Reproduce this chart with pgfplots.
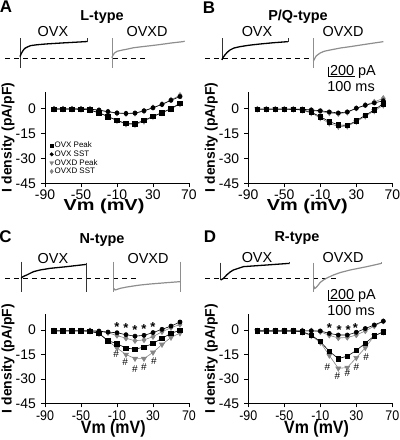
\documentclass[border=0pt]{standalone}
\usepackage{fontspec}
\setmainfont{Liberation Sans}
\usepackage{graphicx}
\usepackage{pgfplots}
\pgfplotsset{compat=1.18}
\definecolor{grm}{HTML}{858585}
\definecolor{grt}{HTML}{8E8E8E}
\newcommand{\fs}[1]{\fontsize{#1}{#1}\selectfont}
\newcommand{\sv}[1]{\scalebox{1}[1.12]{#1}}
\pgfplotsset{
  ivaxis/.style={
    scale only axis, width=144bp, anchor=south west,
    xmin=-90, xmax=70, ymin=-45, ymax=10,
    axis x line*=bottom, axis y line*=left,
    axis line style={-, line width=0.8bp, black},
    xtick={-90,-50,-10,30,70},
    ytick={-45,-30,-15,0}, yticklabels={-45,-30,-15,0},
    tick align=outside, major tick length=4bp,
    every tick/.style={line width=0.8bp, black},
    yticklabel style={font=\fs{14}, inner sep=0pt, anchor=east, xshift=-5bp},
    ylabel={I density (pA/pF)},
    every axis y label/.style={at={(axis description cs:-0.257,0.5)}, rotate=90, anchor=center, inner sep=0pt, font=\fs{14}\bfseries},
    clip=false,
  },
  ivtop/.style={height=91.7bp,
    xticklabels={-90,-50,-10,30,70},
    xticklabel style={font=\fs{14}, inner sep=0pt, anchor=north, yshift=-2bp},
    xlabel={\scalebox{1.25}[1]{Vm (mV)}},
    every axis x label/.style={at={(axis description cs:0.41,-0.255)}, anchor=center, inner sep=0pt, font=\fs{16}\bfseries}},
  ivbot/.style={height=89.4bp,
    xticklabels={\sv{-90},\sv{-50},\sv{-10},\sv{30},\sv{70}},
    xticklabel style={font=\fs{12.5}, inner sep=0pt, anchor=north, yshift=-3.7bp},
    xlabel={\sv{Vm (mV)}},
    every axis x label/.style={at={(axis description cs:0.474,-0.29)}, anchor=center, inner sep=0pt, font=\fs{16}\bfseries}},
  opk/.style={black, line width=0.6bp, mark=square*, mark size=2.2bp},
  osst/.style={black, line width=0.6bp, mark=*, mark size=2.1bp},
  dpk/.style={grm, line width=0.6bp, mark=triangle*, mark size=2.9bp, mark options={rotate=180}},
  dsst/.style={grm, line width=0.6bp, mark=diamond*, mark size=2.7bp},
  star/.style={only marks, mark=text, text mark={\fs{13}\bfseries *}, black},
  hash/.style={only marks, mark=text, text mark={\fs{10}\#}, black!80},
  traceaxis/.style={scale only axis, width=200bp, height=45bp, anchor=south west,
    xmin=-74.07, xmax=666.67, ymin=-340, ymax=560, hide axis, clip=false},
  tblack/.style={black, line width=1.3bp},
  tgrey/.style={grt, line width=1.2bp},
  tartb/.style={black!80, line width=0.5bp},
  tartg/.style={grt, line width=0.5bp},
  base/.style={black, line width=0.8bp, dash pattern=on 5bp off 4bp},
}
\begin{document}
\begin{tikzpicture}
\path[use as bounding box] (0,0) rectangle (400bp,-440bp);

%%%%%%%%%%%%%%%% Traces A
\begin{axis}[traceaxis, at={(0bp,-75bp)}]
\addplot[base] coordinates {(-55,0) (463,0)};
\addplot[tartb] coordinates {(0,400) (0,-200)};
\addplot[tblack] coordinates {(0,30) (5,90) (10,140) (15,175) (20,200) (30,228) (40,248) (60,263) (80,273) (100,282) (130,292) (160,302) (200,314) (250,330)};
\addplot[tartb] coordinates {(250,330) (250,400)};
\addplot[tartg] coordinates {(340,400) (340,-200)};
\addplot[tgrey] coordinates {(340,5) (345,60) (350,100) (360,135) (380,160) (395,175) (420,205) (450,225) (490,250) (520,270) (560,300) (600,325) (610,335)};
\end{axis}

%%%%%%%%%%%%%%%% Traces B
\begin{axis}[traceaxis, at={(200bp,-75bp)}]
\addplot[base] coordinates {(-55,0) (352,0)};
\addplot[tartb] coordinates {(7,400) (7,-40)};
\addplot[tblack] coordinates {(7,-40) (10,0) (18,60) (27,115) (37,160) (52,200) (74,227) (107,255) (148,280) (197,305) (251,327)};
\addplot[tartb] coordinates {(251,327) (251,395)};
\addplot[tartg] coordinates {(346,400) (346,-200)};
\addplot[tgrey] coordinates {(346,-60) (350,-20) (356,40) (371,100) (386,135) (408,160) (446,200) (482,227) (546,280) (605,327)};
\addplot[black, line width=0.8bp] coordinates {(401,-173) (401,-373) (501,-373)};
\node[anchor=base west, font=\fs{14.5}, inner sep=0pt] at (axis cs:407,-350) {200 pA};
\node[anchor=base west, font=\fs{14.5}, inner sep=0pt] at (axis cs:397,-674) {100 ms};
\end{axis}

%%%%%%%%%%%%%%%% Traces C
\begin{axis}[traceaxis, at={(0bp,-295bp)}]
\addplot[base] coordinates {(-55,0) (444,0)};
\addplot[tartb] coordinates {(4,327) (4,-273)};
\addplot[tblack] coordinates {(4,-7) (9,20) (14,35) (25,60) (50,127) (74,160) (111,193) (173,227) (247,273)};
\addplot[tartb] coordinates {(247,307) (247,-273)};
\addplot[tartg] coordinates {(346,327) (346,-273)};
\addplot[tgrey] coordinates {(346,-200) (352,-240) (361,-225) (371,-207) (396,-180) (420,-160) (446,-140) (482,-120) (544,-93) (593,-73)};
\addplot[tartg] coordinates {(593,327) (593,-273)};
\end{axis}

%%%%%%%%%%%%%%%% Traces D
\begin{axis}[traceaxis, at={(200bp,-295bp)}]
\addplot[base] coordinates {(-55,0) (444,0)};
\addplot[tartb] coordinates {(2.5,307) (2.5,-40)};
\addplot[tblack] coordinates {(2.5,-40) (5.5,-30) (12.5,-10) (24.5,60) (37.5,120) (49.5,160) (86.5,227) (172.5,260) (257.5,293)};
\addplot[tartb] coordinates {(257.5,293) (257.5,330)};
\addplot[tartg] coordinates {(346,307) (346,-273)};
\addplot[tgrey] coordinates {(346,-150) (351,-210) (356,-190) (364,-140) (371,-90) (383,-40) (396,0) (420,60) (446,110) (482,160) (544,227) (596,290)};
\addplot[tartg] coordinates {(596,290) (596,330)};
\addplot[black, line width=0.8bp] coordinates {(401,-240) (401,-440) (501,-440)};
\node[anchor=base west, font=\fs{14.5}, inner sep=0pt] at (axis cs:407,-430) {200 pA};
\node[anchor=base west, font=\fs{14.5}, inner sep=0pt] at (axis cs:397,-740) {100 ms};
\end{axis}

%%%%%%%%%%%%%%%% IV A
\begin{axis}[ivaxis, ivtop, at={(45bp,-183.3bp)},
  legend style={at={(axis cs:-85,-19.6)}, anchor=north west, draw=none, fill=none,
    font=\fs{8}, row sep=-0.6bp, inner sep=0pt, nodes={inner sep=1pt}},
  legend cell align=left,
  legend image code/.code={\draw[#1] plot coordinates {(3bp,0bp)};}]
\addlegendimage{only marks, black, mark=square*, mark size=1.8bp}
\addlegendentry{OVX Peak}
\addlegendimage{only marks, black, mark=*, mark size=1.8bp}
\addlegendentry{OVX SST}
\addlegendimage{only marks, grm, mark=triangle*, mark size=2.3bp, mark options={rotate=180}}
\addlegendentry{OVXD Peak}
\addlegendimage{only marks, grm, mark=diamond*, mark size=2.2bp}
\addlegendentry{OVXD SST}
\addplot[dpk, forget plot] coordinates {(-80,-0.5) (-70,-0.5) (-60,-0.5) (-50,-0.6) (-40,-1) (-30,-2.6) (-20,-4.8) (-10,-7.4) (0,-9.5) (10,-9.8) (20,-7.8) (30,-5) (40,-2.8) (50,-0.4) (60,2.6)};
\addplot[dsst, forget plot] coordinates {(-80,-0.4) (-70,-0.4) (-60,-0.4) (-50,-0.4) (-40,-0.5) (-30,-1.2) (-20,-2.2) (-10,-3) (0,-3.3) (10,-3.1) (20,-1.7) (30,0.4) (40,2.4) (50,5) (60,7.8)};
\addplot[opk, forget plot] coordinates {(-80,-0.5) (-70,-0.5) (-60,-0.5) (-50,-0.6) (-40,-1) (-30,-2.8) (-20,-5) (-10,-7.3) (0,-9.1) (10,-9.3) (20,-7.3) (30,-4.8) (40,-2.6) (50,-0.2) (60,3)};
\addplot[osst, forget plot] coordinates {(-80,-0.4) (-70,-0.4) (-60,-0.4) (-50,-0.4) (-40,-0.5) (-30,-1.1) (-20,-2) (-10,-2.8) (0,-3.1) (10,-2.9) (20,-1.5) (30,0.3) (40,2.3) (50,4.8) (60,7)};
\end{axis}

%%%%%%%%%%%%%%%% IV B
\begin{axis}[ivaxis, ivtop, at={(248.3bp,-183.3bp)}]
\addplot[dpk] coordinates {(-80,-0.5) (-70,-0.5) (-60,-0.5) (-50,-0.5) (-40,-0.6) (-30,-1.2) (-20,-2.8) (-10,-5.8) (0,-9) (10,-11) (20,-10.8) (30,-8) (40,-4.8) (50,-1.6) (60,1.8)};
\addplot[dsst] coordinates {(-80,-0.5) (-70,-0.5) (-60,-0.5) (-50,-0.5) (-40,-0.5) (-30,-0.7) (-20,-1.2) (-10,-2) (0,-2.8) (10,-3.3) (20,-2.5) (30,0) (40,2) (50,3.8) (60,6)};
\addplot[opk] coordinates {(-80,-0.5) (-70,-0.5) (-60,-0.5) (-50,-0.5) (-40,-0.6) (-30,-1) (-20,-2.4) (-10,-5) (0,-8) (10,-10) (20,-10.3) (30,-7.5) (40,-4.2) (50,-1) (60,2.8)};
\addplot[osst] coordinates {(-80,-0.5) (-70,-0.5) (-60,-0.5) (-50,-0.5) (-40,-0.5) (-30,-0.6) (-20,-1) (-10,-1.5) (0,-2.2) (10,-2.8) (20,-2.2) (30,0) (40,1.8) (50,3.2) (60,4.5)};
\end{axis}

%%%%%%%%%%%%%%%% IV C
\begin{axis}[ivaxis, ivbot, at={(45bp,-403.3bp)}]
\addplot[dpk] coordinates {(-80,-0.4) (-70,-0.4) (-60,-0.4) (-50,-0.4) (-40,-0.6) (-30,-2.2) (-20,-6.5) (-10,-11) (0,-15) (10,-17.5) (20,-17.5) (30,-13.7) (40,-8.8) (50,-4.5) (60,-1.8)};
\addplot[dsst] coordinates {(-80,-0.4) (-70,-0.4) (-60,-0.4) (-50,-0.4) (-40,-0.4) (-30,-0.8) (-20,-1.6) (-10,-3.3) (0,-5) (10,-6.5) (20,-6) (30,-4) (40,-1) (50,1.5) (60,3.5)};
\addplot[opk] coordinates {(-80,-0.4) (-70,-0.4) (-60,-0.4) (-50,-0.4) (-40,-0.6) (-30,-2) (-20,-6.5) (-10,-8.3) (0,-11) (10,-11.7) (20,-10.4) (30,-8.2) (40,-5) (50,-2) (60,0)};
\addplot[osst] coordinates {(-80,-0.4) (-70,-0.4) (-60,-0.4) (-50,-0.4) (-40,-0.4) (-30,-0.6) (-20,-1.2) (-10,-1.6) (0,-2.8) (10,-3.7) (20,-3.2) (30,-1.5) (40,0.5) (50,2.5) (60,5)};
\addplot[star] coordinates {(-10,1.8) (0,1) (10,0) (20,0.9) (30,1.8)};
\addplot[hash] coordinates {(-11,-15) (-1,-19.5) (10,-24) (20,-23) (31,-19)};
\end{axis}

%%%%%%%%%%%%%%%% IV D
\begin{axis}[ivaxis, ivbot, at={(248.3bp,-403.3bp)}]
\addplot[dpk] coordinates {(-80,-0.5) (-70,-0.5) (-60,-0.5) (-50,-0.5) (-40,-0.5) (-30,-1.2) (-20,-3.5) (-10,-7.5) (0,-15.5) (10,-23.5) (20,-23) (30,-17) (40,-10.8) (50,-3.5) (60,-1.2)};
\addplot[dsst] coordinates {(-80,-0.4) (-70,-0.4) (-60,-0.4) (-50,-0.4) (-40,-0.4) (-30,-0.4) (-20,-0.4) (-10,-1) (0,-3.2) (10,-4.8) (20,-4.5) (30,-3) (40,-0.5) (50,2.5) (60,5.5)};
\addplot[opk] coordinates {(-80,-0.5) (-70,-0.5) (-60,-0.5) (-50,-0.5) (-40,-0.5) (-30,-1) (-20,-3) (-10,-7) (0,-13) (10,-17.5) (20,-16) (30,-12.5) (40,-8) (50,-3.5) (60,-1)};
\addplot[osst] coordinates {(-80,-0.4) (-70,-0.4) (-60,-0.4) (-50,-0.4) (-40,-0.4) (-30,-0.4) (-20,-0.4) (-10,-0.5) (0,-2) (10,-3) (20,-3) (30,-1.3) (40,1) (50,3.2) (60,5.5)};
\addplot[star] coordinates {(0,1.1) (11,-0.1) (21,0.3) (29,1.6)};
\addplot[hash] coordinates {(-2,-23) (9,-28.2) (20,-26.6) (30,-22.7) (41,-16.4)};
\end{axis}

%%%%%%%%%%%%%%%% Panel texts
\node[anchor=base, font=\fs{17}\bfseries, inner sep=0pt] at (6bp,-12.7bp) {A};
\node[anchor=base, font=\fs{17}\bfseries, inner sep=0pt] at (209bp,-13.3bp) {B};
\node[anchor=base, font=\fs{17}\bfseries, inner sep=0pt] at (5.5bp,-242.7bp) {C};
\node[anchor=base, font=\fs{17}\bfseries, inner sep=0pt] at (210bp,-242.7bp) {D};
\node[anchor=base, font=\fs{14.5}\bfseries, inner sep=0pt] at (102bp,-20.7bp) {L-type};
\node[anchor=base, font=\fs{14.5}\bfseries, inner sep=0pt] at (298bp,-20.7bp) {P/Q-type};
\node[anchor=base, font=\fs{14.5}\bfseries, inner sep=0pt] at (102bp,-243.3bp) {N-type};
\node[anchor=base, font=\fs{14.5}\bfseries, inner sep=0pt] at (297bp,-241.7bp) {R-type};
\node[anchor=base, font=\fs{14.5}, inner sep=0pt] at (53bp,-36bp) {OVX};
\node[anchor=base, font=\fs{14.5}, inner sep=0pt] at (147bp,-36bp) {OVXD};
\node[anchor=base, font=\fs{14.5}, inner sep=0pt] at (257bp,-36bp) {OVX};
\node[anchor=base, font=\fs{14.5}, inner sep=0pt] at (343bp,-36bp) {OVXD};
\node[anchor=base, font=\fs{14.5}, inner sep=0pt] at (53bp,-263bp) {OVX};
\node[anchor=base, font=\fs{14.5}, inner sep=0pt] at (148bp,-263bp) {OVXD};
\node[anchor=base, font=\fs{14.5}, inner sep=0pt] at (257bp,-262bp) {OVX};
\node[anchor=base, font=\fs{14.5}, inner sep=0pt] at (343bp,-262bp) {OVXD};
\end{tikzpicture}
\end{document}
